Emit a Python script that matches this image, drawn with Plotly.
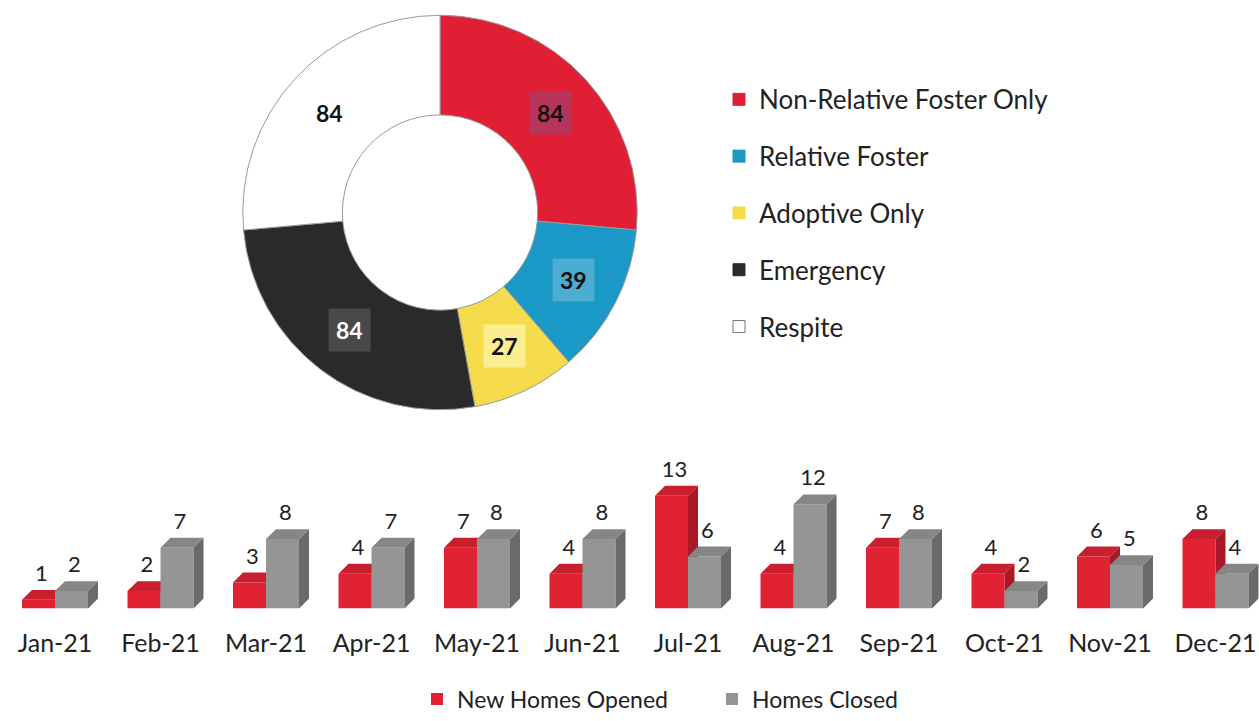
import math
import plotly.graph_objects as go

# ---------------- data ----------------
pie_labels = ["Non-Relative Foster Only", "Relative Foster", "Adoptive Only", "Emergency", "Respite"]
pie_values = [84, 39, 27, 84, 84]

months = ["Jan-21", "Feb-21", "Mar-21", "Apr-21", "May-21", "Jun-21",
          "Jul-21", "Aug-21", "Sep-21", "Oct-21", "Nov-21", "Dec-21"]
opened = [1, 2, 3, 4, 7, 4, 13, 4, 7, 4, 6, 8]
closed = [2, 7, 8, 7, 8, 8, 6, 12, 8, 2, 5, 4]

# ---------------- style ----------------
pie_colors = ["#E01F35", "#1A98C6", "#F6DB4C", "#2A2A2A", "#FFFFFF"]
pie_text_colors = ["#111111", "#111111", "#111111", "#FFFFFF", "#111111"]
pie_box_colors = ["rgba(150,70,120,0.55)", "rgba(120,190,220,0.55)", "rgba(255,250,190,0.6)",
                  "rgba(110,110,110,0.45)", "rgba(255,255,255,0)"]
FONT = "Lato"

W, H = 1259, 721
px_per_cat = 105.5
x0_px = 55.0               # pixel of category 0
base_px = 617.0            # baseline pixel
px_per_unit = 8.8
y_max = 16.0
bw = 33.0 / px_per_cat     # bar width in category units
ddx = 10.0 / px_per_cat    # depth dx
ddy = 10.0 / px_per_unit   # depth dy


def py(p):
    return 1 - p / H


x_range = [-x0_px / px_per_cat, (W - x0_px) / px_per_cat]
y_dom = [py(base_px), py(base_px - y_max * px_per_unit)]

# donut placement (pixels)
pcx, pcy, pr = 440.0, 215.5, 200.0
hole = 0.495

fig = go.Figure()

# ---------------- donut ----------------
fig.add_trace(go.Pie(
    labels=pie_labels, values=pie_values, sort=False, direction="clockwise",
    rotation=0, hole=hole,
    marker=dict(colors=pie_colors, line=dict(color="#9A9A9A", width=1)),
    textinfo="none",
    domain=dict(x=[(pcx - pr) / W, (pcx + pr) / W], y=[py(pcy + pr), py(pcy - pr)]),
    showlegend=False, hoverinfo="label+value",
))

# value labels with shaded boxes, placed at each slice's mid-angle
total = float(sum(pie_values))
cum = 0.0
r_lab = pr * (1 + hole) / 2
for v, tc, bc in zip(pie_values, pie_text_colors, pie_box_colors):
    mid = (cum + v / 2) / total * 2 * math.pi
    cum += v
    fig.add_annotation(
        x=(pcx + r_lab * math.sin(mid)) / W, y=py(pcy - r_lab * math.cos(mid)),
        xref="paper", yref="paper", xanchor="center", yanchor="middle",
        showarrow=False, text="<b>%d</b>" % v,
        font=dict(family=FONT, size=23, color=tc), bgcolor=bc, borderpad=7,
    )

# donut legend proxies (legend2)
for i, (lab, col) in enumerate(zip(pie_labels, pie_colors)):
    fig.add_trace(go.Scatter(
        x=[None], y=[None], mode="markers", name=lab,
        marker=dict(symbol="square", size=12, color=col,
                    line=dict(color="#777777" if col == "#FFFFFF" else col, width=1)),
        legend="legend2", legendgroup="g%d" % i, showlegend=True,
    ))

# ---------------- 3D-style bars ----------------
def faces(vals, left):
    top_x, top_y, side_x, side_y = [], [], [], []
    for i, v in enumerate(vals):
        a = i + left
        b = a + bw
        top_x += [a, a + ddx, b + ddx, b, a, None]
        top_y += [v, v + ddy, v + ddy, v, v, None]
        side_x += [b, b + ddx, b + ddx, b, b, None]
        side_y += [0, ddy, v + ddy, v, 0, None]
    return top_x, top_y, side_x, side_y

series = [
    ("New Homes Opened", opened, -bw, "#E02233", "#C91E2E", "#A81826", "x", "y"),
    ("Homes Closed", closed, 0.0, "#959595", "#868686", "#6A6A6A", "x2", "y2"),
]
for name, vals, left, cf, ct, cs, xa, ya in series:
    fig.add_trace(go.Bar(
        x=list(range(len(vals))), y=vals, width=bw, offset=left,
        marker=dict(color=cf, line=dict(width=0)), name=name,
        legend="legend", xaxis=xa, yaxis=ya, hoverinfo="x+y",
    ))
    tx, ty, sx, sy = faces(vals, left)
    fig.add_trace(go.Scatter(x=sx, y=sy, mode="lines", fill="toself", fillcolor=cs,
                             line=dict(width=0, color=cs), showlegend=False,
                             hoverinfo="skip", xaxis=xa, yaxis=ya))
    fig.add_trace(go.Scatter(x=tx, y=ty, mode="lines", fill="toself", fillcolor=ct,
                             line=dict(width=0, color=ct), showlegend=False,
                             hoverinfo="skip", xaxis=xa, yaxis=ya))
    fig.add_trace(go.Scatter(
        x=[i + left + bw / 2 + ddx * 0.3 for i in range(len(vals))],
        y=[v + ddy + 0.4 for v in vals], mode="text", text=[str(v) for v in vals],
        textposition="top center", textfont=dict(family=FONT, size=22, color="#222222"),
        showlegend=False, hoverinfo="skip", cliponaxis=False, xaxis=xa, yaxis=ya))

axis_common = dict(range=x_range, showgrid=False, zeroline=False, showline=False, fixedrange=True)
fig.update_layout(
    width=W, height=H, autosize=False,
    margin=dict(l=0, r=0, t=0, b=0),
    paper_bgcolor="white", plot_bgcolor="rgba(0,0,0,0)",
    font=dict(family=FONT, color="#222222"),
    xaxis=dict(domain=[0, 1], tickmode="array", tickvals=list(range(12)), ticktext=months,
               ticks="", ticklabelstandoff=18,
               tickfont=dict(family=FONT, size=25, color="#222222"), **axis_common),
    yaxis=dict(domain=y_dom, range=[0, y_max], visible=False, fixedrange=True),
    xaxis2=dict(overlaying="x", visible=False, **axis_common),
    yaxis2=dict(overlaying="y", range=[0, y_max], visible=False, fixedrange=True),
    legend=dict(orientation="h", x=417 / W, xanchor="left", y=py(709), yanchor="middle",
                font=dict(family=FONT, size=23, color="#222222"),
                entrywidth=250, bgcolor="rgba(0,0,0,0)"),
    legend2=dict(orientation="v", x=719 / W, xanchor="left", y=1 - 77 / H, yanchor="top",
                 font=dict(family=FONT, size=26, color="#222222"),
                 tracegroupgap=20, bgcolor="rgba(0,0,0,0)"),
    showlegend=True,
)

fig.write_html("out.html", config={"displayModeBar": False},
               post_script="document.body.style.margin='0';")
